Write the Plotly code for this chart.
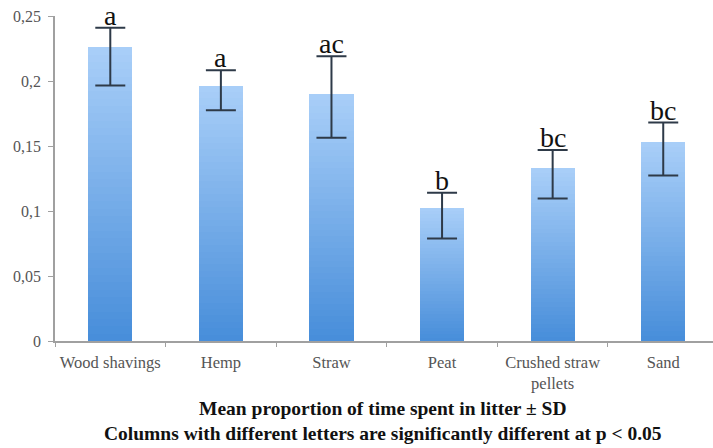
import plotly.graph_objects as go

# Litter types and measured values
categories = ["Wood shavings", "Hemp", "Straw", "Peat", "Crushed straw<br>pellets", "Sand"]
mean_prop = [0.226, 0.1965, 0.190, 0.1025, 0.1327, 0.153]
err_upper = [0.241, 0.2083, 0.219, 0.114, 0.147, 0.168]
err_lower = [0.1965, 0.1775, 0.1563, 0.0788, 0.1096, 0.1273]
letters = ["a", "a", "ac", "b", "bc", "bc"]

SERIF = "Liberation Serif"
TOP_RGB = (168, 206, 248)
BOTTOM_RGB = (72, 142, 218)
N_STEPS = 40

fig = go.Figure()

# Vertical gradient fill: overlaid bars of decreasing height, light at the top, dark at the bottom
for k in range(N_STEPS):
    frac = 1 - k / N_STEPS
    t = k / (N_STEPS - 1)
    rgb = tuple(round(TOP_RGB[i] + (BOTTOM_RGB[i] - TOP_RGB[i]) * t) for i in range(3))
    fig.add_trace(go.Bar(
        x=categories, y=[v * frac for v in mean_prop], width=0.4,
        marker=dict(color="rgb(%d,%d,%d)" % rgb, line=dict(width=0)),
        hoverinfo="skip", showlegend=False,
    ))

# Standard deviation whiskers
fig.add_trace(go.Scatter(
    x=categories, y=mean_prop, mode="markers",
    marker=dict(size=1, color="rgba(0,0,0,0)"),
    error_y=dict(type="data", symmetric=False,
                 array=[u - m for u, m in zip(err_upper, mean_prop)],
                 arrayminus=[m - l for m, l in zip(mean_prop, err_lower)],
                 color="#2e3a48", thickness=2, width=15),
    hoverinfo="skip", showlegend=False,
))

# Significance letters above each whisker
for cat, top, lab in zip(categories, err_upper, letters):
    fig.add_annotation(x=cat, y=top, text=lab, showarrow=False, yanchor="bottom",
                       yshift=-5, font=dict(family=SERIF, size=28, color="#111111"))

fig.add_annotation(xref="paper", yref="paper", x=0.5, y=0, yanchor="top", yshift=-55,
                   xshift=-1,
                   text="<b>Mean proportion of time spent in litter ± SD</b><br>"
                        "<b>Columns with different letters are significantly different at p &lt; 0.05</b>",
                   showarrow=False, align="center",
                   font=dict(family=SERIF, size=19.5, color="#111111"))

fig.update_layout(
    width=713, height=448,
    margin=dict(l=55, r=0, t=16, b=106.5),
    paper_bgcolor="white", plot_bgcolor="white",
    barmode="overlay", bargap=0,
    separators=",.",
    font=dict(family=SERIF, color="#555555"),
    xaxis=dict(
        type="category", range=[-0.5, 5.45],
        showline=True, linecolor="#a0a0a0", linewidth=1.5,
        ticks="outside", tickson="boundaries", ticklen=4, tickcolor="#a0a0a0",
        showgrid=False, zeroline=False, ticklabelstandoff=5,
        tickfont=dict(family=SERIF, size=16.5, color="#555555"),
    ),
    yaxis=dict(
        range=[0, 0.25], dtick=0.05, tick0=0,
        showline=True, linecolor="#a0a0a0", linewidth=1.5,
        ticks="outside", ticklen=5, tickcolor="#a0a0a0",
        showgrid=False, zeroline=False, ticklabelstandoff=4,
        tickfont=dict(family=SERIF, size=16, color="#555555"),
    ),
)

fig.write_html("out.html")
